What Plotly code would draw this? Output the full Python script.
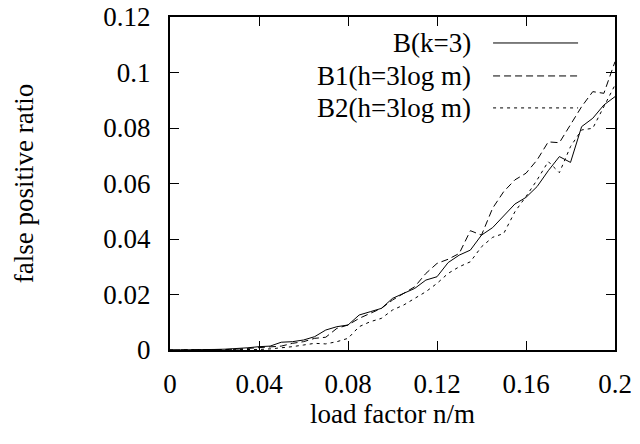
import plotly.graph_objects as go

x_vals = [round(i * 0.005, 3) for i in range(41)]

b_k3 = [0, 0, 0.00005, 0.0001, 0.0002, 0.0003, 0.0005, 0.0008, 0.0012, 0.0014,
        0.0028, 0.003, 0.0036, 0.0048, 0.0072, 0.0084, 0.009, 0.0126, 0.0138, 0.015,
        0.0186, 0.0204, 0.0222, 0.0252, 0.0264, 0.0315, 0.0342, 0.036, 0.0414, 0.0441,
        0.0485, 0.0526, 0.055, 0.0589, 0.0646, 0.0697, 0.0676, 0.0805, 0.0835, 0.0883,
        0.0913]
b1_h = [0, 0, 0, 0.00005, 0.0001, 0.0002, 0.0003, 0.0006, 0.0008, 0.001,
        0.0014, 0.0024, 0.003, 0.0042, 0.0046, 0.0078, 0.009, 0.0114, 0.0132, 0.015,
        0.018, 0.0204, 0.0228, 0.0276, 0.0312, 0.0327, 0.0348, 0.043, 0.0414, 0.0511,
        0.0571, 0.0613, 0.0637, 0.0685, 0.075, 0.0747, 0.081, 0.0877, 0.0931, 0.0925,
        0.1039]
b2_h = [0, 0, 0, 0, 0.00005, 0.0001, 0.0001, 0.0001, 0.0002, 0.0004,
        0.0007, 0.0012, 0.0018, 0.0024, 0.0022, 0.003, 0.0042, 0.0084, 0.0102, 0.0114,
        0.0144, 0.0162, 0.0186, 0.021, 0.024, 0.0276, 0.03, 0.0318, 0.0372, 0.0406,
        0.042, 0.0498, 0.0553, 0.0613, 0.0679, 0.0639, 0.0733, 0.0793, 0.0799, 0.0877,
        0.0955]

series_names = ["B(k=3)", "B1(h=3log m)", "B2(h=3log m)"]
series_vals = [b_k3, b1_h, b2_h]
dashes = ["solid", "7px,4px", "3px,4px"]

x_ticks = [0, 0.04, 0.08, 0.12, 0.16, 0.2]
x_tick_text = ["0", "0.04", "0.08", "0.12", "0.16", "0.2"]
y_ticks = [0, 0.02, 0.04, 0.06, 0.08, 0.1, 0.12]
y_tick_text = ["0", "0.02", "0.04", "0.06", "0.08", "0.1", "0.12"]

FONT = "Liberation Serif"
FS = 27

fig = go.Figure()
for name, vals, d in zip(series_names, series_vals, dashes):
    fig.add_trace(go.Scatter(x=x_vals, y=vals, mode="lines", name=name,
                             line=dict(color="black", width=1, dash=d),
                             showlegend=False))

# manual gnuplot-style legend: right-aligned text, sample line to the right
leg_y = [0.922, 0.823, 0.727]
for name, d, yy in zip(series_names, dashes, leg_y):
    fig.add_annotation(x=0.681, y=yy, xref="paper", yref="paper", text=name,
                       showarrow=False, xanchor="right", yanchor="middle",
                       font=dict(family=FONT, size=FS, color="black"))
    fig.add_shape(type="line", xref="paper", yref="paper",
                  x0=0.726, x1=0.917, y0=yy, y1=yy,
                  line=dict(color="black", width=1, dash=d))

fig.update_xaxes(range=[0, 0.2], tickvals=x_ticks, ticktext=x_tick_text,
                 ticks="inside", ticklen=9, tickwidth=1, tickcolor="black",
                 mirror="allticks", showline=True, linecolor="black", linewidth=2,
                 showgrid=False, zeroline=False, ticklabelstandoff=9,
                 ticklabeloverflow="allow",
                 tickfont=dict(family=FONT, size=FS, color="black"),
                 title=dict(text="load factor n/m", standoff=4,
                            font=dict(family=FONT, size=FS, color="black")))
fig.update_yaxes(range=[0, 0.12], tickvals=y_ticks, ticktext=y_tick_text,
                 ticks="inside", ticklen=9, tickwidth=1, tickcolor="black",
                 mirror="allticks", showline=True, linecolor="black", linewidth=2,
                 showgrid=False, zeroline=False, ticklabelstandoff=12,
                 ticklabeloverflow="allow",
                 tickfont=dict(family=FONT, size=FS, color="black"),
                 title=dict(text="false positive ratio", standoff=62,
                            font=dict(family=FONT, size=FS, color="black")))

fig.update_layout(width=640, height=444, plot_bgcolor="white", paper_bgcolor="white",
                  margin=dict(l=170, r=25, t=17, b=94, autoexpand=False),
                  showlegend=False, hovermode=False)

# remove the browser's default 8px body margin so the figure fills the window
fig.write_html("out.html", config={"displayModeBar": False, "staticPlot": True},
               post_script="document.body.style.margin='0px';document.body.style.overflow='hidden';")
